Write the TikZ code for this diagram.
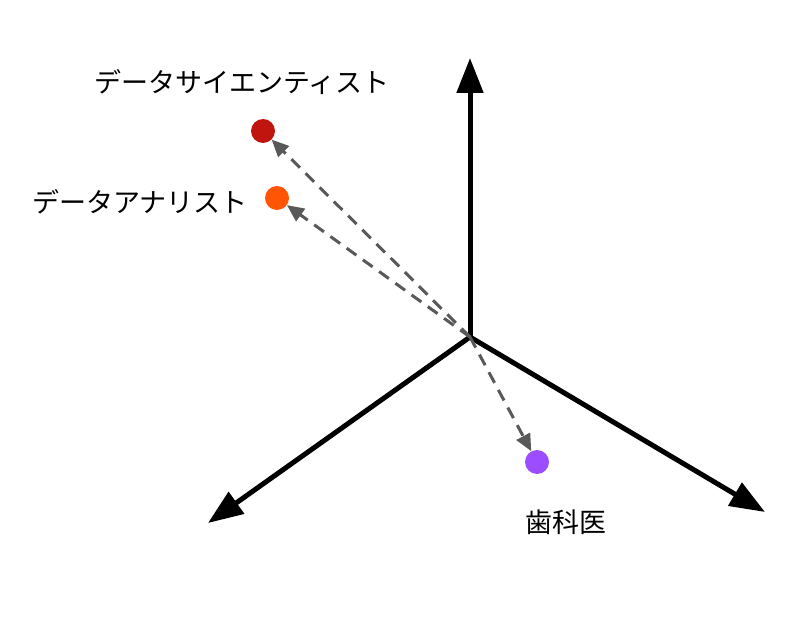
\documentclass[tikz,border=0pt]{standalone}
\usepackage{fontspec}
\newfontfamily\jp{Noto Sans CJK JP}
\usetikzlibrary{arrows.meta}

\begin{document}
\begin{tikzpicture}[x=1pt, y=-1pt]
    \useasboundingbox (0, 0) rectangle (806, 620);
    \draw
    (470, 337) coordinate(O)
    (470, 58) coordinate(Z)
    (208, 523) coordinate(X)
    (765, 512) coordinate(Y)
    (263, 131) node[circle, fill={rgb,255:red,192;green,20;blue,15}, inner sep=0pt, minimum size=24pt](DS){}
    (277, 198) node[circle, fill={rgb,255:red,255;green,85;blue,5}, inner sep=0pt, minimum size=24pt](DA){}
    (537, 462) node[circle, fill={rgb,255:red,155;green,77;blue,255}, inner sep=0pt, minimum size=24pt](DT){}
    (242, 82) node[font=\jp\fontsize{27}{30}\selectfont](DSlabel){データサイエンティスト}
    (140, 202) node[font=\jp\fontsize{27}{30}\selectfont](DAlabel){データアナリスト}
    (566, 522) node[font=\jp\fontsize{27}{30}\selectfont](DTlabel){歯科医};

    \draw[line width=5pt, -{Triangle[length=35pt, width=26pt]}] (O) -- (Z);
    \draw[line width=5pt, -{Triangle[length=35pt, width=26pt]}] (O) -- (X);
    \draw[line width=5pt, -{Triangle[length=35pt, width=26pt]}] (O) -- (Y);
    \draw[line width=3pt, gray!70!black, dash pattern=on 12pt off 8pt, -{Triangle[length=17pt, width=15pt]}] (O) -- (DS);
    \draw[line width=3pt, gray!70!black, dash pattern=on 12pt off 8pt, -{Triangle[length=17pt, width=15pt]}] (O) -- (DA);
    \draw[line width=3pt, gray!70!black, dash pattern=on 12pt off 8pt, -{Triangle[length=17pt, width=15pt]}] (O) -- (DT);

  \end{tikzpicture}
\end{document}
